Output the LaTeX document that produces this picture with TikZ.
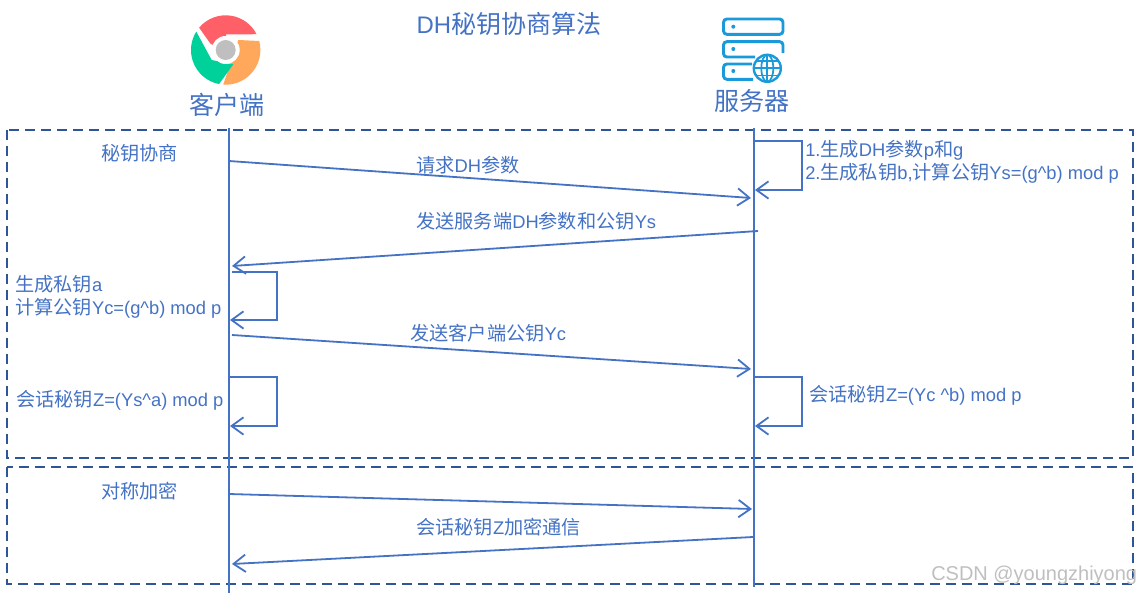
\documentclass[tikz,border=0pt]{standalone}
\usepackage{fontspec}
\setmainfont{Liberation Sans}[Scale=0.955]
\newfontfamily\cjk{Noto Sans CJK SC}
\newcommand{\zh}[1]{{\cjk #1}}
\usetikzlibrary{arrows.meta}
\definecolor{linkblue}{HTML}{4472C4}
\definecolor{boxblue}{HTML}{2F5597}
\definecolor{iconblue}{HTML}{1A9AD9}
\definecolor{iconred}{HTML}{FF6068}
\definecolor{iconorange}{HTML}{FFA75A}
\definecolor{icongreen}{HTML}{00D09A}
\tikzset{
    lifeline/.style={linkblue, line width=1.35pt},
    msg/.style={linkblue, line width=1.35pt, -{Straight Barb[length=9pt, width=13pt, line width=1.35pt]}},
    phasebox/.style={boxblue, line width=1.2pt, dash pattern=on 7.5pt off 4.5pt},
    lbl/.style={linkblue, anchor=west, inner sep=0pt, align=left, font=\fontsize{14.4}{17.25}\selectfont},
    bigl/.style={linkblue, inner sep=0pt, font=\fontsize{18.8}{22}\selectfont},
    srv/.style={iconblue, line width=2.2pt, rounded corners=2.5pt}
}
\begin{document}
\begin{tikzpicture}[x=0.75pt, y=-0.75pt]
    \useasboundingbox (0, 0) rectangle (1142, 595);
    % phases
    \draw[phasebox] (7, 130) rectangle (1133, 458);
    \draw[phasebox] (7, 467) rectangle (1133, 584);
    % client icon
    \fill[iconred] (225.7, 50) ++(-140:34.7) arc[start angle=-140, end angle=-27, radius=34.7] -- (226, 34.3) -- (226, 50) -- (210.7, 44) -- cycle;
    \fill[iconorange] (225.7, 50) ++(-15:34.7) arc[start angle=-15, end angle=94, radius=34.7] -- (238.3, 40) -- cycle;
    \fill[icongreen] (225.7, 50) ++(101:34.7) arc[start angle=101, end angle=212, radius=34.7] -- (211.7, 60) -- (233.3, 64.3) -- cycle;
    \fill[white] (225.7, 50) circle (14);
    \fill[gray!50] (225.7, 50) circle (10);
    % server icon
    \draw[srv] (723.5, 19) rectangle (783, 34.3);
    \draw[srv] (783, 53) -- (783, 41.7) -- (723.5, 41.7) -- (723.5, 57) -- (755, 57);
    \draw[srv] (752, 64) -- (723.5, 64) -- (723.5, 79.3) -- (753, 79.3);
    \fill[iconblue] (733.3, 26.7) circle (2);
    \fill[iconblue] (733.3, 49) circle (2);
    \fill[iconblue] (733.3, 71) circle (2);
    \draw[iconblue, line width=1.8pt] (767.3, 68.3) circle (13.5);
    \draw[iconblue, line width=1.3pt] (767.3, 68.3) ellipse (6 and 13.5);
    \draw[iconblue, line width=1.3pt] (753.8, 68.3) -- (780.8, 68.3);
    \draw[iconblue, line width=1.3pt] (756, 61) -- (778.6, 61);
    \draw[iconblue, line width=1.3pt] (756, 75.6) -- (778.6, 75.6);
    \draw[iconblue, line width=1.3pt] (767.3, 54.8) -- (767.3, 81.8);
    % titles
    \node[bigl] (title) at (509, 24) {DH\zh{秘钥协商算法}};
    \node[bigl] (client) at (227, 105) {\zh{客户端}};
    \node[bigl] (server) at (752, 101) {\zh{服务器}};
    % lifelines
    \coordinate (clienttop) at (229, 128);
    \coordinate (clientend) at (229, 593);
    \coordinate (servertop) at (754, 128);
    \coordinate (serverend) at (754, 587);
    \draw[lifeline] (clienttop) -- (clientend);
    \draw[lifeline] (servertop) -- (serverend);
    % key exchange
    \node[lbl] (keyphase) at (101, 153) {\zh{秘钥协商}};
    \coordinate (reqa) at (229, 161);
    \coordinate (reqb) at (751, 198);
    \draw[msg] (reqa) -- (reqb);
    \node[lbl] (reqlbl) at (416, 165) {\zh{请求}DH\zh{参数}};
    \coordinate (gena) at (755, 141);
    \coordinate (genb) at (802, 141);
    \coordinate (genc) at (802, 190);
    \coordinate (gend) at (755, 190);
    \draw[msg] (gena) -- (genb) -- (genc) -- (gend);
    \node[lbl] (genlbl) at (805, 162) {1.\zh{生成}DH\zh{参数}p\zh{和}g\\2.\zh{生成私钥}b,\zh{计算公钥}Ys=(g\textasciicircum b) mod p};
    \coordinate (resa) at (758, 231);
    \coordinate (resb) at (232, 266);
    \draw[msg] (resa) -- (resb);
    \node[lbl] (reslbl) at (416, 221) {\zh{发送服务端}DH\zh{参数和公钥}Ys};
    \coordinate (cgena) at (232, 272);
    \coordinate (cgenb) at (277, 272);
    \coordinate (cgenc) at (277, 320);
    \coordinate (cgend) at (230, 320);
    \draw[msg] (cgena) -- (cgenb) -- (cgenc) -- (cgend);
    \node[lbl] (cgenlbl) at (15, 297) {\zh{生成私钥}a\\\zh{计算公钥}Yc=(g\textasciicircum b) mod p};
    \coordinate (puba) at (232, 335);
    \coordinate (pubb) at (751, 369);
    \draw[msg] (puba) -- (pubb);
    \node[lbl] (publbl) at (410, 333) {\zh{发送客户端公钥}Yc};
    \coordinate (cza) at (229, 377);
    \coordinate (czb) at (277, 377);
    \coordinate (czc) at (277, 426);
    \coordinate (czd) at (230, 426);
    \draw[msg] (cza) -- (czb) -- (czc) -- (czd);
    \node[lbl] (czlbl) at (16, 400) {\zh{会话秘钥}Z=(Ys\textasciicircum a) mod p};
    \coordinate (sza) at (755, 377);
    \coordinate (szb) at (802, 377);
    \coordinate (szc) at (802, 426);
    \coordinate (szd) at (755, 426);
    \draw[msg] (sza) -- (szb) -- (szc) -- (szd);
    \node[lbl] (szlbl) at (809, 395) {\zh{会话秘钥}Z=(Yc \textasciicircum b) mod p};
    % symmetric encryption
    \node[lbl] (encphase) at (101, 491) {\zh{对称加密}};
    \coordinate (enca) at (229, 494);
    \coordinate (encb) at (752, 509);
    \draw[msg] (enca) -- (encb);
    \coordinate (deca) at (753, 537);
    \coordinate (decb) at (232, 564);
    \draw[msg] (deca) -- (decb);
    \node[lbl] (declbl) at (416, 527) {\zh{会话秘钥}Z\zh{加密通信}};
    % watermark
    \node[anchor=west, inner sep=0pt, gray!50, font=\fontsize{15.7}{18}\selectfont] (mark) at (931, 575) {CSDN @youngzhiyong};
\end{tikzpicture}
\end{document}
